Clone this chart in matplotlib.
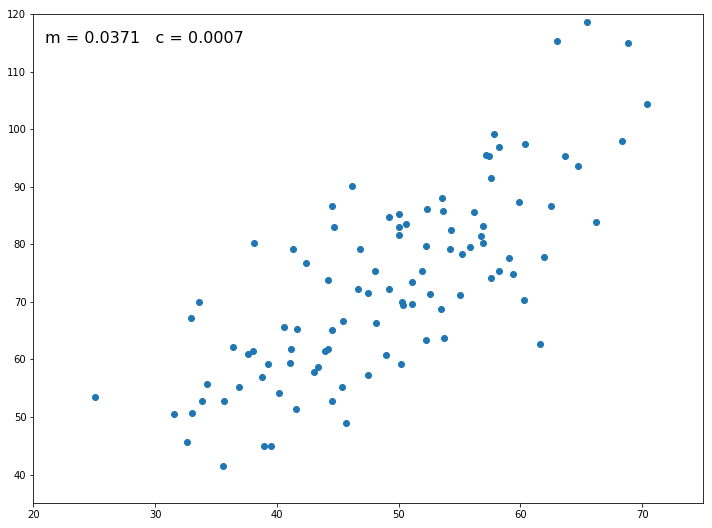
import matplotlib
matplotlib.use("Agg")
import matplotlib.pyplot as plt

# points
x = [25.09, 31.59, 32.65, 32.98, 33.06, 33.64, 33.89, 34.30, 35.61, 35.69,
     36.43, 36.93, 37.67, 38.03, 38.16, 38.82, 38.98, 39.31, 39.56, 40.21,
     40.62, 41.12, 41.20, 41.36, 41.61, 41.69, 42.43, 43.09, 43.34, 43.94,
     44.16, 44.24, 44.49, 44.49, 44.57, 44.73, 45.39, 45.47, 45.64, 46.21,
     46.68, 46.79, 47.50, 47.50, 48.10, 48.18, 48.98, 49.25, 49.25, 50.07,
     50.07, 50.07, 50.27, 50.16, 50.32, 50.57, 51.06, 51.06, 51.88, 52.21,
     52.21, 52.37, 52.54, 53.44, 53.58, 53.66, 53.69, 54.26, 54.32, 55.06,
     55.17, 55.83, 56.15, 56.73, 56.89, 56.89, 57.20, 57.45, 57.55, 57.55,
     57.80, 58.21, 58.21, 59.03, 59.36, 59.85, 60.34, 60.26, 61.58, 61.91,
     62.48, 62.97, 63.63, 64.70, 65.44, 66.18, 68.32, 68.81, 70.37]
y = [53.43, 50.47, 45.60, 67.16, 50.64, 69.94, 52.73, 55.69, 41.43, 52.73,
     62.12, 55.16, 60.90, 61.42, 80.19, 56.90, 44.91, 59.16, 44.91, 54.12,
     65.59, 59.34, 61.77, 79.15, 51.34, 65.35, 76.72, 57.77, 58.64, 61.42,
     61.87, 73.76, 86.63, 65.07, 52.73, 82.98, 55.16, 66.64, 48.91, 90.10,
     72.20, 79.15, 71.50, 57.25, 75.33, 66.29, 60.73, 72.20, 84.71, 85.24,
     82.98, 81.59, 69.94, 59.16, 69.52, 83.50, 73.42, 69.59, 75.33, 63.33,
     79.67, 86.10, 71.33, 68.72, 88.02, 85.76, 63.68, 79.15, 82.45, 71.16,
     78.28, 79.50, 85.58, 81.41, 83.15, 80.19, 95.49, 95.40, 91.49, 74.11,
     99.14, 96.88, 75.33, 77.59, 74.81, 87.32, 97.40, 70.29, 62.64, 77.76,
     86.63, 115.31, 95.32, 93.58, 118.61, 83.84, 97.92, 114.96, 104.36]

m = 0.0371
c = 0.0007

fig = plt.figure(figsize=(712 / 72, 528 / 72), dpi=72)
ax = fig.add_axes([0.0468, 0.0468, 0.9406, 0.9261])

ax.scatter(x, y, color='#1f77b4')
ax.text(21, 115, f"m = {m}   c = {c}", fontsize=16)

ax.set_xlim(20, 75)
ax.set_ylim(35, 120)

fig.savefig("out.png", dpi=72)
